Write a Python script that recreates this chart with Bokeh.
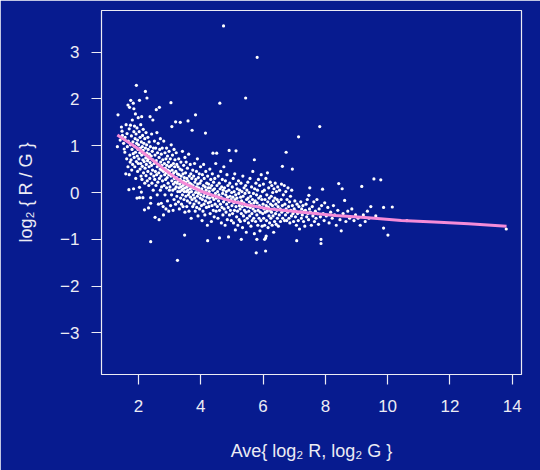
from bokeh.plotting import figure
from bokeh.models import Range1d, FixedTicker
from bokeh.embed import file_html
from bokeh.resources import INLINE

# ---- data (A = average log2 intensity, M = log2 ratio) ----
ma_points = [
    (1.32, 0.98), (1.34, 1.66), (1.41, 1.12), (1.45, 1.40), (1.47, 1.31), (1.48, 1.22),
    (1.52, 1.05), (1.54, 0.93), (1.56, 0.86), (1.57, 1.18), (1.59, 0.40), (1.60, 1.45), (1.62, 0.72),
    (1.63, 1.26), (1.64, 0.98), (1.66, 1.87), (1.66, 0.55), (1.67, 1.10), (1.69, 0.06), (1.70, 0.38),
    (1.70, 1.36), (1.71, 1.82), (1.72, 0.80), (1.73, 0.65), (1.74, 1.02), (1.74, 1.44),
    (1.75, 1.97), (1.76, 0.70), (1.77, 1.21), (1.78, 0.48), (1.79, 0.92), (1.80, 1.55), (1.81, 0.60),
    (1.82, 1.08), (1.83, 1.91), (1.83, 0.83), (1.84, 0.08), (1.85, 1.79), (1.85, 1.30), (1.86, 0.75),
    (1.87, 1.42), (1.88, 0.98), (1.88, 0.55), (1.89, 1.15), (1.90, 1.68), (1.90, 0.86), (1.91, 0.30),
    (1.92, 1.25), (1.93, 2.29), (1.93, 0.66), (1.94, 1.05), (1.95, -0.12), (1.95, 1.38), (1.96, 0.78),
    (1.97, 0.45), (1.97, 1.12), (1.98, 0.92), (1.99, 1.60), (1.99, 0.62),
    (2.00, 1.02), (2.01, 0.72), (2.02, 1.30), (2.03, 0.11), (2.03, -0.11), (2.03, 1.97), (2.04, 0.85),
    (2.05, 0.50), (2.05, 1.18), (2.06, 0.95), (2.07, 1.45), (2.07, 0.62), (2.08, 0.35), (2.09, 0.01),
    (2.09, 1.08), (2.10, 0.80), (2.10, 1.62), (2.11, 0.28), (2.12, 0.98), (2.12, 0.56), (2.13, 1.22),
    (2.14, -0.11), (2.14, 0.70), (2.15, 0.90), (2.15, 1.35), (2.16, 0.42), (2.17, 1.05), (2.18, 0.66),
    (2.19, -0.37), (2.19, 0.82), (2.20, 1.15), (2.20, 0.20), (2.21, 0.52), (2.22, 2.16), (2.22, 0.95),
    (2.23, 0.74), (2.24, 1.28), (2.24, 0.36),
    (2.25, 0.60), (2.26, 1.02), (2.27, 2.02), (2.27, 0.85), (2.28, 0.25), (2.29, 0.68), (2.30, 1.18),
    (2.30, 0.45), (2.31, 0.92), (2.32, -0.33), (2.32, 0.72), (2.33, 0.15), (2.34, 1.08), (2.34, 0.55),
    (2.35, 0.82), (2.36, 0.30), (2.37, 1.62), (2.37, 0.64), (2.38, 0.98), (2.39, -0.11), (2.39, -0.23),
    (2.39, -1.05), (2.40, 0.40), (2.41, 0.78), (2.42, 1.25), (2.42, 0.58), (2.43, 0.20), (2.44, 0.88),
    (2.45, 0.48), (2.46, 1.55), (2.46, 0.70), (2.47, 0.05), (2.48, 0.95), (2.49, 0.35),
    (2.50, 0.62), (2.51, 1.10), (2.52, 0.28), (2.53, -0.53), (2.53, 0.80), (2.54, 0.45), (2.55, 0.95),
    (2.56, 0.15), (2.57, 1.77), (2.57, 0.68), (2.58, 0.38), (2.59, 1.28), (2.60, 0.55), (2.60, -0.05),
    (2.61, 0.85), (2.62, 0.22), (2.63, 1.05), (2.63, 0.60), (2.64, -0.25), (2.65, 0.42), (2.66, -0.58),
    (2.66, 0.75), (2.67, 1.82), (2.67, 0.30), (2.68, 0.92), (2.69, 0.50), (2.70, 0.05), (2.70, 1.15),
    (2.71, 0.65), (2.72, 0.35), (2.73, -0.23), (2.73, 0.82), (2.74, 0.48), (2.74, 0.12),
    (2.75, 0.58), (2.76, 0.95), (2.77, 0.25), (2.78, 0.70), (2.79, -0.30), (2.80, -0.48), (2.80, 0.45),
    (2.81, 1.10), (2.82, 0.15), (2.83, 0.62), (2.84, 0.38), (2.85, 0.85), (2.85, -0.05), (2.86, 0.52),
    (2.87, 0.28), (2.88, 0.72), (2.88, -0.35), (2.89, 0.42), (2.90, 0.95), (2.90, 0.10), (2.91, 0.58),
    (2.92, 0.32), (2.93, -0.18), (2.93, 0.78), (2.94, 0.48), (2.95, 0.20), (2.96, 0.65), (2.97, -0.40),
    (2.97, 0.38), (2.98, 0.88), (2.99, 0.05), (2.99, 0.55),
    (3.00, 0.45), (3.01, 0.12), (3.02, 0.72), (3.03, -0.28), (3.04, 1.92), (3.04, 0.35), (3.05, 1.02),
    (3.05, 0.58), (3.06, -0.05), (3.07, 1.41), (3.07, 0.25), (3.08, 0.48), (3.09, 0.80), (3.10, 0.05),
    (3.10, 0.38), (3.11, -0.38), (3.12, 0.62), (3.12, 0.18), (3.13, 0.42), (3.14, 0.92), (3.14, -0.15),
    (3.15, 0.30), (3.16, 0.55), (3.17, 0.08), (3.17, 0.70), (3.18, 0.22), (3.19, 1.51), (3.19, -0.25),
    (3.20, 0.45), (3.21, 0.12), (3.21, 0.85), (3.22, 0.32), (3.23, -0.08), (3.23, 0.60), (3.24, 0.20),
    (3.25, -1.45), (3.25, 0.40),
    (3.26, 0.02), (3.27, 0.55), (3.27, 0.25), (3.28, -0.20), (3.29, 0.72), (3.30, 0.10), (3.30, 0.38),
    (3.31, -0.35), (3.32, 0.18), (3.33, 0.50), (3.33, 0.02), (3.34, 1.50), (3.34, 0.28), (3.35, -0.12),
    (3.36, 0.65), (3.36, 0.12), (3.37, 0.35), (3.38, -0.25), (3.39, 0.05), (3.39, 0.48), (3.40, 0.22),
    (3.41, 0.88), (3.41, -0.05), (3.42, 0.15), (3.43, 0.40), (3.43, -0.30), (3.44, 0.08), (3.45, 0.58),
    (3.45, 0.25), (3.46, -0.15), (3.47, 0.32), (3.47, 0.02), (3.48, -0.91), (3.48, 0.18), (3.49, 0.75),
    (3.49, -0.42),
    (3.50, 0.10), (3.51, 0.42), (3.52, -0.08), (3.52, 0.22), (3.53, 0.65), (3.54, 0.02), (3.55, -0.30),
    (3.55, 0.30), (3.56, 0.12), (3.57, 0.52), (3.57, -0.18), (3.58, 0.05), (3.59, 1.53), (3.59, 0.25),
    (3.60, -0.05), (3.61, 0.82), (3.61, 0.15), (3.62, -0.40), (3.63, 0.35), (3.63, 0.00), (3.64, 0.20),
    (3.65, -0.22), (3.66, 0.60), (3.66, 0.08), (3.67, -0.10), (3.68, 0.40), (3.69, 0.18), (3.69, -0.55),
    (3.70, 0.02), (3.71, 0.30), (3.72, 1.33), (3.72, -0.15), (3.73, 0.10), (3.74, 0.48), (3.74, -0.30),
    (3.75, 0.15), (3.76, -0.05), (3.77, 0.35), (3.78, -0.25), (3.79, 0.08), (3.80, 0.62), (3.80, -0.12),
    (3.81, 0.22), (3.82, -0.40), (3.83, 1.66), (3.83, 0.00), (3.84, 0.28), (3.85, -0.18), (3.86, 0.12),
    (3.86, 0.45), (3.87, -0.32), (3.88, 0.05), (3.89, 0.72), (3.89, -0.08), (3.90, 0.18), (3.91, -0.50),
    (3.92, 0.32), (3.92, -0.02), (3.93, 0.10), (3.94, -0.22), (3.95, 0.40), (3.96, 0.02), (3.96, -0.35),
    (3.97, 0.20), (3.98, -0.12), (3.99, 0.55),
    (4.00, -0.05), (4.01, 0.25), (4.02, -0.28), (4.03, 0.08), (4.04, -0.60), (4.05, 0.38), (4.05, -0.15),
    (4.06, 0.02), (4.07, -0.40), (4.08, 0.15), (4.09, 0.60), (4.09, -0.08), (4.10, -0.25), (4.11, 0.30),
    (4.12, -0.02), (4.13, -0.48), (4.14, 0.12), (4.15, 1.27), (4.15, -0.18), (4.16, 0.45), (4.17, 0.05),
    (4.18, -0.32), (4.19, 0.20), (4.20, -0.10), (4.21, -0.70), (4.22, -1.03), (4.22, 0.35), (4.23, -0.05),
    (4.24, -0.22), (4.24, 0.10),
    (4.25, 0.18), (4.26, -0.30), (4.27, 0.02), (4.28, -0.12), (4.29, 0.50), (4.30, -0.45), (4.30, 0.10),
    (4.31, -0.20), (4.32, 0.28), (4.33, -0.05), (4.34, -0.62), (4.35, 0.15), (4.36, -0.28), (4.37, 0.40),
    (4.38, -0.10), (4.39, 0.84), (4.39, 0.05), (4.40, -0.38), (4.41, 0.22), (4.42, -0.15), (4.43, -0.52),
    (4.44, 0.08), (4.45, 0.30), (4.46, -0.25), (4.47, -0.02), (4.48, 0.62), (4.49, -0.40),
    (4.50, -0.12), (4.51, 0.84), (4.52, 0.15), (4.53, -0.30), (4.54, 0.02), (4.55, -0.55), (4.56, 0.35),
    (4.57, -0.18), (4.58, -0.05), (4.59, 0.20), (4.60, -0.97), (4.60, -0.38), (4.61, 1.91), (4.62, 0.08),
    (4.63, -0.25), (4.64, 0.45), (4.65, -0.10), (4.66, -0.65), (4.67, 0.12), (4.68, -0.32), (4.69, 0.28),
    (4.70, -0.02), (4.71, -0.48), (4.72, 0.05), (4.73, 3.56), (4.73, -0.20), (4.74, 0.55),
    (4.75, -0.35), (4.76, 0.10), (4.77, -0.15), (4.78, -0.70), (4.79, 0.25), (4.80, -0.05), (4.81, -0.42),
    (4.82, 0.02), (4.83, -0.25), (4.84, 0.38), (4.85, -0.58), (4.86, -0.10), (4.87, 0.15), (4.88, -0.32),
    (4.89, -0.95), (4.90, 0.05), (4.91, 0.90), (4.91, -0.20), (4.92, -0.48), (4.93, 0.20), (4.94, -0.08),
    (4.95, -0.38), (4.96, 0.68), (4.97, -0.15), (4.98, -0.60), (4.99, 0.00),
    (5.00, -0.28), (5.01, 0.12), (5.02, -0.45), (5.03, -0.10), (5.04, 0.30), (5.05, -0.65), (5.06, -0.22),
    (5.07, 0.02), (5.08, -0.38), (5.09, 0.40), (5.10, -0.15), (5.11, -0.80), (5.12, -0.05), (5.13, 0.89),
    (5.13, -0.30), (5.14, 0.18), (5.15, -0.52), (5.16, -0.12), (5.17, 0.08), (5.18, -0.40), (5.19, -0.70),
    (5.20, -0.20), (5.21, 0.25), (5.22, -0.02), (5.23, -0.58), (5.24, -0.28),
    (5.25, 0.05), (5.26, -0.35), (5.27, -0.62), (5.28, -0.10), (5.29, 0.20), (5.30, -1.00), (5.30, -0.45),
    (5.31, -0.18), (5.32, 0.02), (5.33, -0.30), (5.34, -0.75), (5.35, 0.35), (5.36, -0.08), (5.37, -0.50),
    (5.38, -0.22), (5.39, 0.10), (5.40, -0.38), (5.41, -0.60), (5.42, -0.02), (5.43, -0.28), (5.44, 2.02),
    (5.44, 0.15), (5.45, -0.42), (5.46, -0.85), (5.47, -0.15), (5.48, 0.05), (5.49, -0.55),
    (5.50, -0.30), (5.51, 0.22), (5.52, -0.12), (5.53, -0.65), (5.54, -0.40), (5.55, 0.00), (5.56, -0.20),
    (5.57, -0.50), (5.58, 0.30), (5.59, -0.32), (5.60, -0.08), (5.61, -0.72), (5.62, -0.25), (5.63, 0.12),
    (5.64, -0.45), (5.65, -0.60), (5.66, -0.15), (5.67, 0.45), (5.68, -0.35), (5.69, -0.02), (5.70, -0.55),
    (5.71, -0.22), (5.72, 0.70), (5.72, -0.88), (5.73, 0.08), (5.74, -0.40),
    (5.75, -0.18), (5.76, -0.62), (5.77, 0.20), (5.78, -1.29), (5.78, -0.30), (5.79, -0.05), (5.80, -1.00),
    (5.80, -0.48), (5.81, 2.89), (5.81, -0.22), (5.82, 0.05), (5.83, -0.70), (5.84, -0.38), (5.85, 0.28),
    (5.86, -0.12), (5.87, -0.55), (5.88, -0.28), (5.89, 0.15), (5.90, -0.82), (5.91, -0.42), (5.92, -0.08),
    (5.93, -0.60), (5.94, 0.38), (5.95, -0.32), (5.96, -0.15), (5.97, -0.72), (5.98, 0.02), (5.99, -0.45),
    (6.00, -0.25), (6.01, 0.18), (6.02, -0.55), (6.03, -0.35), (6.04, 0.05), (6.05, -1.00), (6.05, -0.70),
    (6.06, -0.15), (6.07, -0.42), (6.08, -1.25), (6.08, -0.97), (6.09, 0.30), (6.10, -0.93), (6.10, -0.28),
    (6.11, -0.60), (6.12, -0.05), (6.13, -0.40), (6.14, 0.42), (6.15, -0.20), (6.16, -0.75), (6.17, -0.32),
    (6.18, 0.10), (6.19, -0.50), (6.20, -0.12), (6.21, -0.65), (6.22, -0.38), (6.23, 0.22), (6.24, -0.25),
    (6.25, -0.55), (6.26, -0.08), (6.27, -0.42), (6.28, 0.15), (6.29, -0.70), (6.30, -0.28), (6.31, 0.00),
    (6.32, -0.50), (6.33, -0.18), (6.34, -0.85), (6.35, 0.08), (6.36, -0.35), (6.37, -0.62), (6.38, -0.12),
    (6.39, 0.20), (6.40, -0.45), (6.41, -0.25), (6.42, -0.68), (6.43, 0.02), (6.44, -0.38), (6.45, -0.15),
    (6.46, -0.55), (6.47, 0.12), (6.48, -0.30), (6.49, -0.72),
    (6.50, -0.20), (6.52, -0.48), (6.53, 0.05), (6.55, -0.35), (6.56, -0.62), (6.58, -0.15), (6.59, 0.18),
    (6.60, -0.42), (6.62, 0.56), (6.62, -0.28), (6.63, -0.55), (6.65, -0.05), (6.66, -0.38), (6.68, 0.15),
    (6.69, -0.60), (6.70, -0.25), (6.72, -0.48), (6.73, 0.02), (6.74, 0.86), (6.74, -0.35),
    (6.76, -0.60), (6.77, -0.15), (6.79, -0.42), (6.80, 0.10), (6.82, -0.30), (6.83, -0.55), (6.85, -0.20),
    (6.86, -0.65), (6.88, -0.08), (6.89, -0.38), (6.91, -0.50), (6.92, 0.05), (6.94, 0.50), (6.94, -0.28),
    (6.96, -0.45), (6.98, -0.62),
    (7.00, -0.35), (7.02, -0.18), (7.04, -0.52), (7.05, -0.40), (7.07, -0.70), (7.08, -1.03), (7.09, -0.25),
    (7.11, -0.45), (7.13, -0.60), (7.14, 1.19), (7.15, -0.30), (7.17, -0.78), (7.19, -0.42), (7.21, -0.20),
    (7.23, -0.55), (7.24, -0.35),
    (7.26, -0.48), (7.28, -0.28), (7.30, -0.62), (7.32, -0.40), (7.34, -0.72), (7.36, -0.38), (7.38, -0.25),
    (7.40, -0.52), (7.42, -0.15), (7.44, -0.45), (7.46, -0.58), (7.47, -0.06), (7.49, -0.35),
    (7.50, 0.10), (7.52, -0.42), (7.55, -0.70), (7.58, -0.30), (7.60, -0.50), (7.63, -0.20), (7.65, -0.62),
    (7.68, -0.40), (7.70, -0.55), (7.73, -0.15), (7.75, -0.45), (7.78, -0.68), (7.80, -0.35), (7.82, 1.41),
    (7.84, -0.52), (7.86, -1.00), (7.86, -1.09), (7.88, -0.28), (7.91, 0.07), (7.93, -0.45), (7.96, -0.60),
    (7.98, -0.22),
    (8.03, -0.50), (8.08, -0.32), (8.12, -0.65), (8.17, -0.42), (8.22, -0.55), (8.26, -0.28), (8.30, -0.48),
    (8.35, -0.70), (8.40, -0.38), (8.43, 0.19), (8.47, -0.58), (8.51, -0.82), (8.54, 0.08), (8.57, -0.45),
    (8.62, -0.17), (8.66, -0.62), (8.72, -0.40), (8.78, -0.55), (8.85, -0.35), (8.92, -0.60), (8.97, -0.48),
    (9.05, -0.55), (9.12, -0.70), (9.17, 0.13), (9.22, -0.48), (9.28, -0.62), (9.35, -0.40), (9.40, -0.55),
    (9.46, -0.30), (9.56, 0.29), (9.62, -0.50), (9.78, 0.27), (9.87, -0.32), (9.87, -0.76), (10.01, -0.91),
    (10.15, -0.31), (10.62, -0.60), (13.81, -0.78),
]
ave_log2 = [a for a, _ in ma_points]
m_log2 = [mm for _, mm in ma_points]

# lowess fit
fit_ave = [1.32, 2.0, 2.4, 2.8, 3.1, 3.43, 4.07, 4.6, 5.13, 5.6, 6.19, 6.8, 7.26, 8.32, 9.38, 10.44, 11.5, 12.6, 13.82]
fit_m = [1.23, 0.93, 0.72, 0.51, 0.36, 0.21, 0.01, -0.11, -0.21, -0.28, -0.35, -0.39, -0.42, -0.49, -0.54, -0.60, -0.63, -0.67, -0.72]

x_ticks = [2, 4, 6, 8, 10, 12, 14]
y_ticks = [-3, -2, -1, 0, 1, 2, 3]
y_tick_labels = {-3: "\u22123", -2: "\u22122", -1: "\u22121", 0: "0", 1: "1", 2: "2", 3: "3"}

BG = "#071b8f"
FG = "#ececf4"
FONT = "Liberation Sans"

p = figure(width=540, height=470, output_backend="svg", toolbar_location=None,
           x_range=Range1d(0.81, 14.3), y_range=Range1d(-3.89, 3.89),
           min_border_left=101, min_border_right=19, min_border_top=10, min_border_bottom=96)
p.background_fill_color = BG
p.border_fill_color = BG
p.outline_line_color = FG
p.outline_line_width = 1.2
p.grid.visible = False

p.scatter(ave_log2, m_log2, size=3.2, color="white", line_width=0)
p.line(fit_ave, fit_m, line_color="#f58bd8", line_width=3)

for ax in (p.xaxis[0], p.yaxis[0]):
    ax.axis_line_color = None
    ax.major_tick_line_color = FG
    ax.major_tick_line_width = 1.2
    ax.major_tick_in = 0
    ax.major_tick_out = 10
    ax.minor_tick_line_color = None
    ax.major_label_text_color = FG
    ax.major_label_text_font = FONT
    ax.major_label_text_font_size = "17px"
    ax.axis_label_text_color = FG
    ax.axis_label_text_font = FONT
    ax.axis_label_text_font_size = "18px"
    ax.axis_label_text_font_style = "normal"

p.xaxis.ticker = FixedTicker(ticks=x_ticks)
p.yaxis.ticker = FixedTicker(ticks=y_ticks)
p.yaxis.major_label_overrides = y_tick_labels
p.xaxis.major_label_standoff = 15
p.yaxis.major_label_standoff = 12
p.xaxis.axis_label = "Ave{ log\u2082 R, log\u2082 G }"
p.yaxis.axis_label = "log\u2082 { R / G }"
p.xaxis.axis_label_standoff = 26
p.yaxis.axis_label_standoff = 21

open("out.html", "w").write(file_html(p, INLINE))
